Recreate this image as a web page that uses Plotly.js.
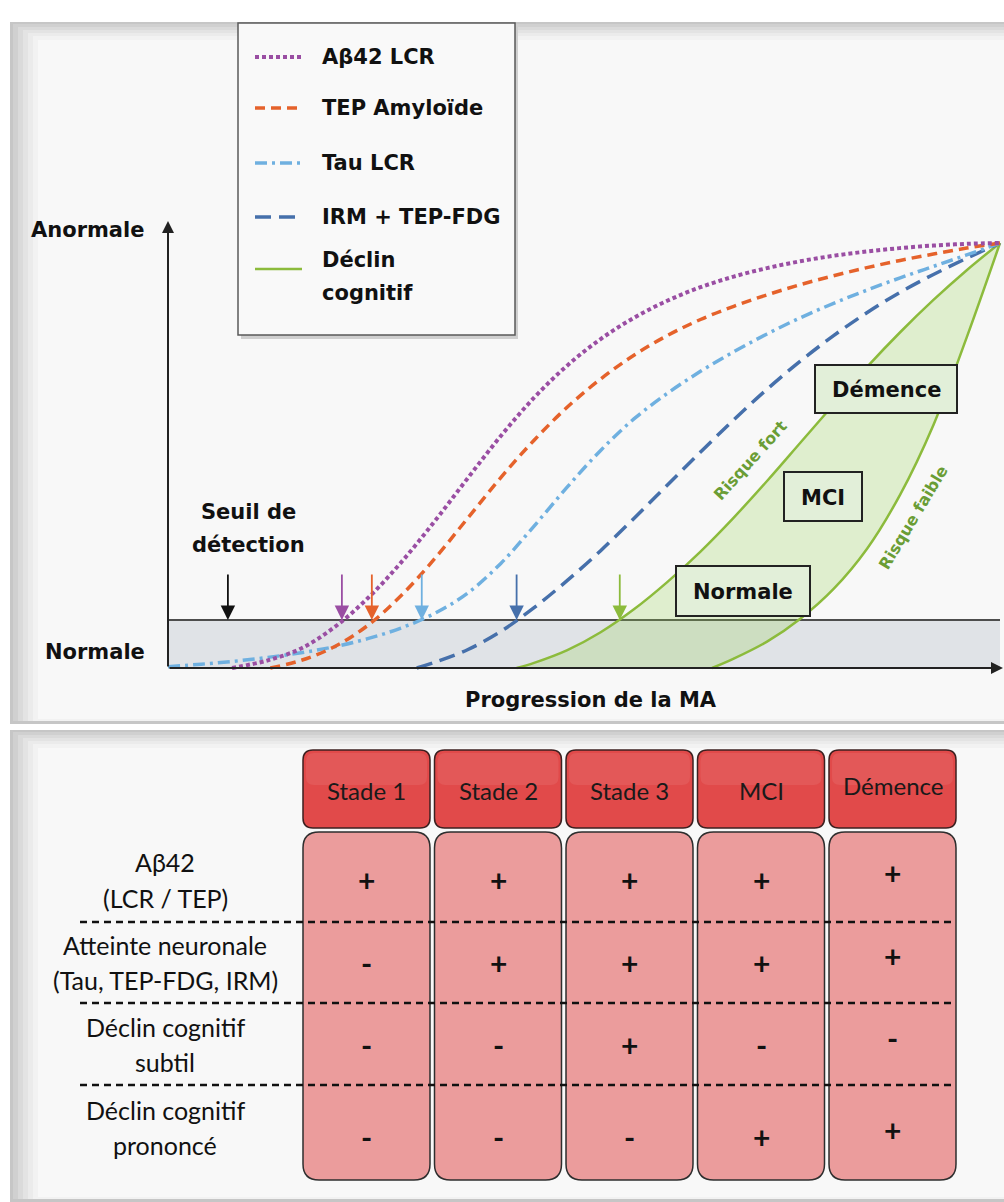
<!DOCTYPE html>
<html><head><meta charset="utf-8">
<script src="https://cdn.plot.ly/plotly-3.0.1.min.js"></script>
<style>html,body{margin:0;padding:0;background:#fff;}#chart{width:1004px;height:1202px;}</style>
</head><body><div id="chart"></div>
<script>
// ---------- DATA (progression 0-100, abnormality 0-100) ----------
const SERIES_NAMES = ['Aβ42 LCR', 'TEP Amyloïde', 'Tau LCR', 'IRM + TEP-FDG', 'Déclin cognitif'];
const THRESHOLD = 11.3;

const X_AB42 = [7.7, 12, 16, 20, 24, 28, 32, 36, 40, 44, 48, 52, 56, 60, 64, 68, 72, 76, 80, 84, 88, 92, 96, 100];
const Y_AB42 = [0, 1.8, 4.6, 9.6, 16.4, 24.8, 34.4, 44.6, 54.6, 63.6, 71.2, 77.4, 82.4, 86.4, 89.6, 92.1, 94.1, 95.7, 97.0, 98.0, 98.8, 99.4, 99.8, 100];

const X_TEP = [12.3, 16, 20, 24, 28, 32, 36, 40, 44, 48, 52, 56, 60, 64, 68, 72, 76, 80, 84, 88, 92, 96, 100];
const Y_TEP = [0, 1.8, 5.0, 10.0, 17.0, 25.6, 35.2, 44.8, 53.6, 61.4, 68.0, 73.6, 78.2, 82.0, 85.1, 87.8, 90.2, 92.3, 94.2, 95.9, 97.4, 98.8, 100];

const X_TAU = [0, 4, 8, 12, 16, 20, 24, 28, 32, 36, 40, 44, 48, 52, 56, 60, 64, 68, 72, 76, 80, 84, 88, 92, 96, 100];
const Y_TAU = [0.3, 0.9, 1.6, 2.5, 3.6, 5.0, 6.9, 9.4, 12.8, 17.6, 24.6, 33.4, 42.6, 51.2, 58.6, 64.6, 69.8, 74.4, 78.6, 82.4, 85.8, 88.9, 91.8, 94.5, 97.2, 100];

const X_IRM = [29.9, 32, 36, 40, 44, 48, 52, 56, 60, 64, 68, 72, 76, 80, 84, 88, 92, 96, 100];
const Y_IRM = [0, 1.3, 4.3, 8.6, 14.2, 20.6, 27.6, 35.2, 43.0, 50.8, 58.4, 65.6, 72.2, 78.2, 83.6, 88.4, 92.6, 96.4, 100];

const X_FORT = [41.9, 44, 48, 52, 56, 60, 64, 68, 72, 76, 80, 84, 88, 92, 96, 100];
const Y_FORT = [0, 1.2, 4.2, 8.4, 13.8, 20.2, 27.4, 35.4, 44.0, 53.0, 62.0, 70.8, 79.0, 86.6, 93.6, 100];

const X_FAIBLE = [65.4, 68, 72, 76, 80, 84, 88, 92, 96, 100];
const Y_FAIBLE = [0, 2.2, 6.2, 11.6, 18.6, 28.0, 40.8, 57.2, 77.8, 100];

// detection points (where each curve crosses the threshold); first = "Seuil de détection"
const DETECT_X = [7.2, 20.9, 24.5, 30.5, 41.9, 54.3];

const STAGE_BOXES = ['Normale', 'MCI', 'Démence'];

// table
const STAGES = ['Stade 1', 'Stade 2', 'Stade 3', 'MCI', 'Démence'];
const ROW_LABELS = [['Aβ42', '(LCR / TEP)'], ['Atteinte neuronale', '(Tau, TEP-FDG, IRM)'], ['Déclin cognitif', 'subtil'], ['Déclin cognitif', 'prononcé']];
const SIGNS = [
  ['+', '+', '+', '+', '+'],
  ['-', '+', '+', '+', '+'],
  ['-', '-', '+', '-', '-'],
  ['-', '-', '-', '+', '+']
];

// ---------- STYLE ----------
const C_PURPLE = '#9a4ea3', C_ORANGE = '#e5622b', C_LBLUE = '#6fb0e0', C_DBLUE = '#4670ab', C_GREEN = '#8cbb3c';
const DETECT_COLORS = ['#111111', C_PURPLE, C_ORANGE, C_LBLUE, C_DBLUE, C_GREEN];
const LINESTYLES = [
  {color: C_PURPLE, width: 4, dash: '4px,3px'},
  {color: C_ORANGE, width: 3.5, dash: '10px,6px'},
  {color: C_LBLUE, width: 3.5, dash: '12px,5px,3px,5px'},
  {color: C_DBLUE, width: 3.5, dash: '16px,8px'},
  {color: C_GREEN, width: 2.5, dash: 'solid'}
];

const W = 1004, H = 1202;
const PX = x => x / W, PY = y => 1 - y / H;
const FB = 'DejaVu Sans, sans-serif';
const FT = 'Lato, sans-serif';
const shapes = [], ann = [];

function rect(x0, y0, x1, y1, fill, line, lw, layer) {
  shapes.push({type: 'rect', xref: 'paper', yref: 'paper', x0: PX(x0), x1: PX(x1), y0: PY(y1), y1: PY(y0),
    fillcolor: fill, line: {color: line || 'rgba(0,0,0,0)', width: lw || 0}, layer: layer || 'below'});
}
function rrect(x0, y0, x1, y1, r, fill, line, lw, layer) {
  const p = (x, y) => PX(x).toFixed(5) + ',' + PY(y).toFixed(5);
  const d = 'M' + p(x0 + r, y0) + ' L' + p(x1 - r, y0) + ' Q' + p(x1, y0) + ' ' + p(x1, y0 + r) +
    ' L' + p(x1, y1 - r) + ' Q' + p(x1, y1) + ' ' + p(x1 - r, y1) + ' L' + p(x0 + r, y1) +
    ' Q' + p(x0, y1) + ' ' + p(x0, y1 - r) + ' L' + p(x0, y0 + r) + ' Q' + p(x0, y0) + ' ' + p(x0 + r, y0) + ' Z';
  shapes.push({type: 'path', xref: 'paper', yref: 'paper', path: d, fillcolor: fill, line: {color: line, width: lw}, layer: layer || 'above'});
}
function pline(x0, y0, x1, y1, color, w, dash, layer) {
  shapes.push({type: 'line', xref: 'paper', yref: 'paper', x0: PX(x0), x1: PX(x1), y0: PY(y0), y1: PY(y1),
    line: {color: color, width: w, dash: dash || 'solid'}, layer: layer || 'below'});
}
function text(x, y, t, size, font, color, xanchor, extra) {
  ann.push(Object.assign({xref: 'paper', yref: 'paper', x: PX(x), y: PY(y), text: t, showarrow: false,
    font: {family: font, size: size, color: color || '#111'}, xanchor: xanchor || 'center', yanchor: 'middle'}, extra || {}));
}

// ---------- PANELS ----------
function panel(y0, y1) {
  rect(10, y0, 1004, y1, '#c6c6c6');
  const greys = ['#d0d0d0', '#dadada', '#e3e3e3', '#ebebeb', '#f2f2f2'];
  for (let i = 0; i < 5; i++) rect(13 + i * 5, y0 + 2 + i * 3, 1004, y1 - 3, greys[i]);
  rect(38, y0 + 18, 1004, y1 - 5, '#f8f8f8');
}
panel(22, 724);
panel(730, 1202);

// ---------- LEGEND ----------
rect(241, 26, 518, 339, '#cfcfcf');
rect(238, 23, 515, 335, '#f9f9f9', '#5a5a5a', 1.5);
const LEG_Y = [57, 108, 163, 217, 269];
for (let i = 0; i < 5; i++) {
  pline(255, LEG_Y[i], 302, LEG_Y[i], LINESTYLES[i].color, LINESTYLES[i].width, LINESTYLES[i].dash, 'below');
}
text(320, 57, '<b>' + SERIES_NAMES[0] + '</b>', 21, FB, '#111', 'left');
text(320, 108, '<b>' + SERIES_NAMES[1] + '</b>', 21, FB, '#111', 'left');
text(320, 163, '<b>' + SERIES_NAMES[2] + '</b>', 21, FB, '#111', 'left');
text(320, 217, '<b>' + SERIES_NAMES[3] + '</b>', 21, FB, '#111', 'left');
const declinParts = SERIES_NAMES[4].split(' ');
text(320, 260, '<b>' + declinParts[0] + '</b>', 21, FB, '#111', 'left');
text(320, 293, '<b>' + declinParts[1] + '</b>', 21, FB, '#111', 'left');

// ---------- AXIS LABELS ----------
text(146, 230, '<b>Anormale</b>', 21, FB, '#111', 'right');
text(147, 652, '<b>Normale</b>', 21, FB, '#111', 'right');
text(248, 512, '<b>Seuil de</b>', 21, FB);
text(248, 545, '<b>détection</b>', 21, FB);
text(591, 700, '<b>Progression de la MA</b>', 21, FB);

// axes arrows
ann.push({xref: 'paper', yref: 'paper', x: PX(168), y: PY(221), ax: 0, ay: 447, text: '', showarrow: true,
  arrowhead: 2, arrowsize: 1.2, arrowwidth: 2, arrowcolor: '#222'});
ann.push({xref: 'paper', yref: 'paper', x: PX(1003), y: PY(668), ax: -835, ay: 0, text: '', showarrow: true,
  arrowhead: 2, arrowsize: 1.2, arrowwidth: 2, arrowcolor: '#222'});

// detection arrows (data coords)
DETECT_X.forEach((dx, i) => {
  ann.push({xref: 'x', yref: 'y', x: dx, y: THRESHOLD, ax: 0, ay: -47, text: '', showarrow: true,
    arrowhead: 2, arrowsize: 1.6, arrowwidth: 1.8, arrowcolor: DETECT_COLORS[i]});
});

// gray "normal" band + threshold line (data coords)
shapes.push({type: 'rect', xref: 'x', yref: 'y', x0: 0, x1: 100, y0: 0, y1: THRESHOLD, fillcolor: '#e0e3e7', line: {width: 0}, layer: 'below'});
shapes.push({type: 'line', xref: 'x', yref: 'y', x0: 0, x1: 100, y0: THRESHOLD, y1: THRESHOLD, line: {color: '#4d4d4d', width: 2}, layer: 'below'});

// stage boxes
const BOX_POS = {Normale: [676, 566, 810, 616], MCI: [784, 472, 862, 521], 'Démence': [815, 365, 957, 413]};
STAGE_BOXES.forEach(n => {
  const b = BOX_POS[n];
  rect(b[0], b[1], b[2], b[3], '#e2efd9', '#222', 2, 'above');
  text((b[0] + b[2]) / 2, (b[1] + b[3]) / 2 + 1, '<b>' + n + '</b>', 21, FB);
});
text(750, 460, '<b>Risque fort</b>', 16, FB, '#6a9d35', 'center', {textangle: -48});
text(913, 517, '<b>Risque faible</b>', 16, FB, '#6a9d35', 'center', {textangle: -59});

// ---------- TABLE ----------
const COL0 = 303, COLW = 127, COLSTEP = 131.5;
const ROW_Y = [880, 963, 1045, 1137];
const LABEL_Y = [[862, 898], [945, 980], [1027, 1062], [1110, 1145]];
for (let i = 0; i < STAGES.length; i++) {
  const x0 = COL0 + i * COLSTEP, x1 = x0 + COLW;
  rrect(x0, 750, x1, 828, 10, '#e14a4a', '#3d2020', 1.5);
  rrect(x0 + 3, 753, x1 - 3, 785, 8, 'rgba(255,255,255,0.08)', 'rgba(0,0,0,0)', 0);
  rrect(x0, 832, x1, 1180, 16, '#eb9c9c', '#2e2e2e', 1.5);
  text((x0 + x1) / 2, i === 4 ? 785 : 790, STAGES[i], 24, FT, '#1a1a1a');
}
[922, 1003, 1085].forEach(y => pline(80, y, 956, y, '#111', 2.5, '7px,5px', 'above'));
ROW_LABELS.forEach((lines, r) => {
  text(165, LABEL_Y[r][0], lines[0], 25, FT, '#111');
  text(165, LABEL_Y[r][1], lines[1], 25, FT, '#111');
  SIGNS[r].forEach((s, c) => {
    const cx = COL0 + c * COLSTEP + COLW / 2;
    text(cx, ROW_Y[r] - (c === 4 ? 7 : 0), '<b>' + s + '</b>', 30, FT, '#111');
  });
});

// ---------- TRACES ----------
const SPL = {shape: 'spline', smoothing: 1};
const fillX = X_FORT.concat(X_FAIBLE.slice().reverse());
const fillY = Y_FORT.concat(Y_FAIBLE.slice().reverse());
const traces = [
  {x: fillX, y: fillY, type: 'scatter', mode: 'lines', fill: 'toself', fillcolor: 'rgba(146,208,80,0.25)',
    line: {width: 0, shape: 'spline', smoothing: 0.6}, hoverinfo: 'skip', showlegend: false},
  {x: X_FORT, y: Y_FORT, name: SERIES_NAMES[4] + ' (risque fort)', type: 'scatter', mode: 'lines', line: Object.assign({}, SPL, LINESTYLES[4])},
  {x: X_FAIBLE, y: Y_FAIBLE, name: SERIES_NAMES[4] + ' (risque faible)', type: 'scatter', mode: 'lines', line: Object.assign({}, SPL, LINESTYLES[4])},
  {x: X_IRM, y: Y_IRM, name: SERIES_NAMES[3], type: 'scatter', mode: 'lines', line: Object.assign({}, SPL, LINESTYLES[3])},
  {x: X_TAU, y: Y_TAU, name: SERIES_NAMES[2], type: 'scatter', mode: 'lines', line: Object.assign({}, SPL, LINESTYLES[2])},
  {x: X_TEP, y: Y_TEP, name: SERIES_NAMES[1], type: 'scatter', mode: 'lines', line: Object.assign({}, SPL, LINESTYLES[1])},
  {x: X_AB42, y: Y_AB42, name: SERIES_NAMES[0], type: 'scatter', mode: 'lines', line: Object.assign({}, SPL, LINESTYLES[0])}
];

const layout = {
  width: W, height: H, margin: {l: 0, r: 0, t: 0, b: 0, pad: 0},
  paper_bgcolor: '#ffffff', plot_bgcolor: 'rgba(0,0,0,0)', showlegend: false,
  xaxis: {domain: [159.68 / W, 1], range: [-1, 100.481], visible: false, fixedrange: true},
  yaxis: {domain: [1 - 676.5 / H, 1 - 221.75 / H], range: [-2, 105], visible: false, fixedrange: true},
  shapes: shapes, annotations: ann
};
Plotly.newPlot('chart', traces, layout, {staticPlot: true, displayModeBar: false});
</script></body></html>
